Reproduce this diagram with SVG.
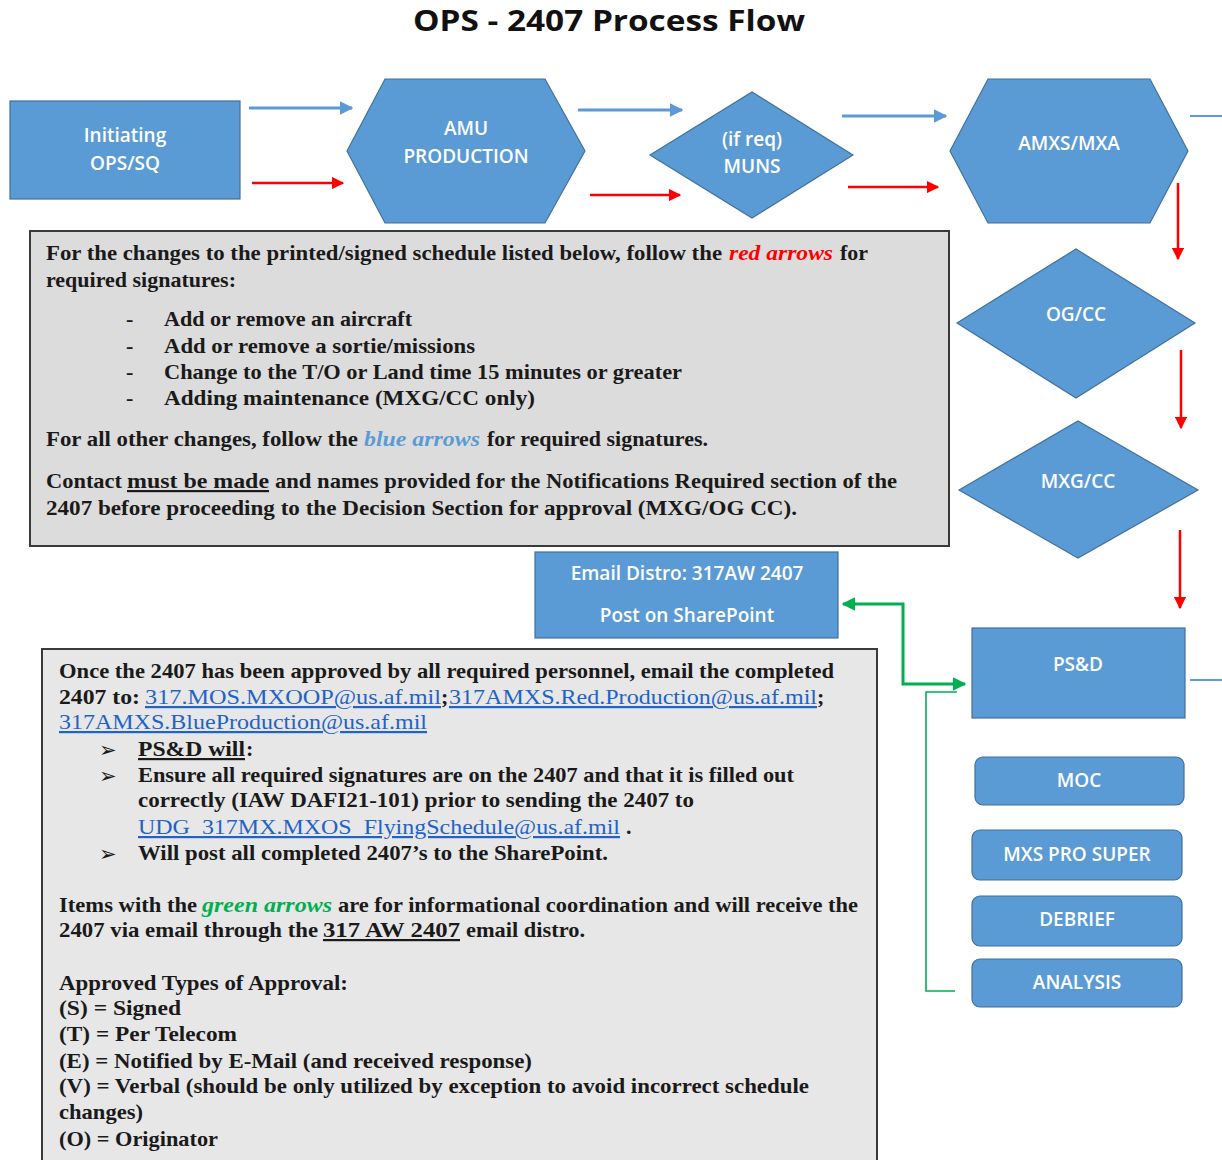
<svg xmlns="http://www.w3.org/2000/svg" width="1222" height="1160" viewBox="0 0 1222 1160">
<defs>
<style>
.shape{fill:#5b9bd5;stroke:#41719c;stroke-width:1.2}
.lbl{font-family:"Open Sans","Liberation Sans",sans-serif;font-size:19px;font-weight:600;fill:#ffffff;text-anchor:middle}
.tb{font-family:"Liberation Serif","Times New Roman",serif;font-size:22px;font-weight:bold;fill:#1a1a1a}
.lnk{fill:#1f63c6;text-decoration:underline;font-weight:normal}
.ul{text-decoration:underline}
.blue{stroke:#5b9bd5;stroke-width:3;fill:none}
.red{stroke:#ff0000;stroke-width:2.5;fill:none}
.green{stroke:#00b050;stroke-width:3;fill:none}
.chev{font-family:"DejaVu Sans",sans-serif;font-size:21px;font-weight:bold;fill:#1a1a1a}
</style>
<marker id="ab" viewBox="0 0 10 10" refX="9" refY="5" markerWidth="4.5" markerHeight="4.5" orient="auto" markerUnits="strokeWidth"><path d="M0,0 L10,5 L0,10 z" fill="#5b9bd5"/></marker>
<marker id="ar" viewBox="0 0 10 10" refX="9" refY="5" markerWidth="5" markerHeight="5" orient="auto" markerUnits="strokeWidth"><path d="M0,0 L10,5 L0,10 z" fill="#ff0000"/></marker>
<marker id="ag" viewBox="0 0 10 10" refX="9" refY="5" markerWidth="4.5" markerHeight="4.5" orient="auto-start-reverse" markerUnits="strokeWidth"><path d="M0,0 L10,5 L0,10 z" fill="#00b050"/></marker>
</defs>
<rect width="1222" height="1160" fill="#ffffff"/>

<text x="609" y="31" text-anchor="middle" font-family="'Open Sans','Liberation Sans',sans-serif" font-size="28" font-weight="bold" fill="#111" textLength="392" lengthAdjust="spacingAndGlyphs">OPS - 2407 Process Flow</text>

<g id="connectors">
<line class="blue" x1="249" y1="108" x2="352" y2="108" marker-end="url(#ab)"/>
<line class="red" x1="252" y1="183" x2="343" y2="183" marker-end="url(#ar)"/>
<line class="blue" x1="578" y1="110" x2="682" y2="110" marker-end="url(#ab)"/>
<line class="red" x1="590" y1="195" x2="680" y2="195" marker-end="url(#ar)"/>
<line class="blue" x1="842" y1="116" x2="946" y2="116" marker-end="url(#ab)"/>
<line class="red" x1="848" y1="187" x2="938" y2="187" marker-end="url(#ar)"/>
<line x1="1190" y1="116" x2="1222" y2="116" stroke="#5b9bd5" stroke-width="2"/>
<line class="red" x1="1178" y1="183" x2="1178" y2="259" marker-end="url(#ar)"/>
<line class="red" x1="1181" y1="350" x2="1181" y2="428" marker-end="url(#ar)"/>
<line class="red" x1="1180" y1="530" x2="1180" y2="608" marker-end="url(#ar)"/>
<line x1="1190" y1="680" x2="1222" y2="680" stroke="#5b9bd5" stroke-width="2"/>
<path class="green" d="M965 684 H903 V604 H843" marker-start="url(#ag)" marker-end="url(#ag)"/>
<path d="M957 692 H926 V991 H955" fill="none" stroke="#00b050" stroke-width="1.6"/>
</g>

<g id="initiating">
<rect class="shape" x="10" y="101" width="230" height="98"/>
<text class="lbl" x="125" y="142">Initiating</text>
<text class="lbl" x="125" y="170">OPS/SQ</text>
</g>
<g id="amu-production">
<polygon class="shape" points="347,151 385,79 545,79 585,151 545,223 385,223"/>
<text class="lbl" x="466" y="135">AMU</text>
<text class="lbl" x="466" y="163">PRODUCTION</text>
</g>
<g id="muns">
<polygon class="shape" points="650,155 752,92 853,155 752,218"/>
<text class="lbl" x="752" y="146">(if req)</text>
<text class="lbl" x="752" y="173">MUNS</text>
</g>
<g id="amxs-mxa">
<polygon class="shape" points="950,151 988,79 1150,79 1188,151 1150,223 988,223"/>
<text class="lbl" x="1069" y="150">AMXS/MXA</text>
</g>
<g id="og-cc">
<polygon class="shape" points="957,323 1076,249 1195,323 1076,398"/>
<text class="lbl" x="1076" y="321">OG/CC</text>
</g>
<g id="mxg-cc">
<polygon class="shape" points="959,490 1078,421 1198,490 1078,558"/>
<text class="lbl" x="1078" y="488">MXG/CC</text>
</g>
<g id="psd">
<rect class="shape" x="972" y="628" width="213" height="90"/>
<text class="lbl" x="1078" y="671">PS&amp;D</text>
</g>
<g id="moc">
<rect class="shape" x="975" y="757" width="209" height="48" rx="8"/>
<text class="lbl" x="1079" y="787">MOC</text>
</g>
<g id="mxs-pro-super">
<rect class="shape" x="972" y="830" width="210" height="50" rx="8"/>
<text class="lbl" x="1077" y="861">MXS PRO SUPER</text>
</g>
<g id="debrief">
<rect class="shape" x="972" y="896" width="210" height="50" rx="8"/>
<text class="lbl" x="1077" y="926">DEBRIEF</text>
</g>
<g id="analysis">
<rect class="shape" x="972" y="959" width="210" height="48" rx="8"/>
<text class="lbl" x="1077" y="989">ANALYSIS</text>
</g>
<g id="email-distro">
<rect class="shape" x="535" y="552" width="303" height="86"/>
<text class="lbl" x="687" y="580">Email Distro: 317AW 2407</text>
<text class="lbl" x="687" y="622">Post on SharePoint</text>
</g>

<g id="note-signatures">
<rect x="30" y="231" width="919" height="315" fill="#dcdcdc" stroke="#3a3a3a" stroke-width="2"/>
<text class="tb" x="46" y="260" textLength="676" lengthAdjust="spacingAndGlyphs">For the changes to the printed/signed schedule listed below, follow the</text>
<text class="tb" x="729" y="260" font-style="italic" textLength="104" lengthAdjust="spacingAndGlyphs" style="fill:#ff0000">red arrows</text>
<text class="tb" x="840" y="260" textLength="28" lengthAdjust="spacingAndGlyphs">for</text>
<text class="tb" x="46" y="287" textLength="190" lengthAdjust="spacingAndGlyphs">required signatures:</text>
<text class="tb" x="126" y="326">-</text>
<text class="tb" x="164" y="326" textLength="248" lengthAdjust="spacingAndGlyphs">Add or remove an aircraft</text>
<text class="tb" x="126" y="353">-</text>
<text class="tb" x="164" y="353" textLength="311" lengthAdjust="spacingAndGlyphs">Add or remove a sortie/missions</text>
<text class="tb" x="126" y="379">-</text>
<text class="tb" x="164" y="379" textLength="518" lengthAdjust="spacingAndGlyphs">Change to the T/O or Land time 15 minutes or greater</text>
<text class="tb" x="126" y="405">-</text>
<text class="tb" x="164" y="405" textLength="371" lengthAdjust="spacingAndGlyphs">Adding maintenance (MXG/CC only)</text>
<text class="tb" x="46" y="446" textLength="312" lengthAdjust="spacingAndGlyphs">For all other changes, follow the</text>
<text class="tb" x="364" y="446" font-style="italic" font-weight="normal" textLength="116" lengthAdjust="spacingAndGlyphs" style="fill:#5b9bd5">blue arrows</text>
<text class="tb" x="487" y="446" textLength="221" lengthAdjust="spacingAndGlyphs">for required signatures.</text>
<text class="tb" x="46" y="488" textLength="76" lengthAdjust="spacingAndGlyphs">Contact</text>
<text class="tb ul" x="127" y="488" textLength="142" lengthAdjust="spacingAndGlyphs">must be made</text>
<text class="tb" x="275" y="488" textLength="622" lengthAdjust="spacingAndGlyphs">and names provided for the Notifications Required section of the</text>
<text class="tb" x="46" y="515" textLength="751" lengthAdjust="spacingAndGlyphs">2407 before proceeding to the Decision Section for approval (MXG/OG CC).</text>
</g>

<g id="note-distribution">
<rect x="42" y="649" width="835" height="520" fill="#e7e7e7" stroke="#3a3a3a" stroke-width="2"/>
<text class="tb" x="59" y="678" textLength="775" lengthAdjust="spacingAndGlyphs">Once the 2407 has been approved by all required personnel, email the completed</text>
<text class="tb" x="59" y="704" textLength="81" lengthAdjust="spacingAndGlyphs">2407 to:</text>
<text class="tb lnk" x="145" y="704" textLength="296" lengthAdjust="spacingAndGlyphs">317.MOS.MXOOP@us.af.mil</text>
<text class="tb" x="441" y="704">;</text>
<text class="tb lnk" x="449" y="704" textLength="368" lengthAdjust="spacingAndGlyphs">317AMXS.Red.Production@us.af.mil</text>
<text class="tb" x="817" y="704">;</text>
<text class="tb lnk" x="59" y="729" textLength="368" lengthAdjust="spacingAndGlyphs">317AMXS.BlueProduction@us.af.mil</text>
<text class="chev" x="99" y="757">➢</text>
<text class="tb ul" x="138" y="756" textLength="107" lengthAdjust="spacingAndGlyphs">PS&amp;D will</text>
<text class="tb" x="246" y="756">:</text>
<text class="chev" x="99" y="783">➢</text>
<text class="tb" x="138" y="782" textLength="656" lengthAdjust="spacingAndGlyphs">Ensure all required signatures are on the 2407 and that it is filled out</text>
<text class="tb" x="138" y="807" textLength="556" lengthAdjust="spacingAndGlyphs">correctly (IAW DAFI21-101) prior to sending the 2407 to</text>
<text class="tb lnk" x="138" y="834" textLength="482" lengthAdjust="spacingAndGlyphs">UDG_317MX.MXOS_FlyingSchedule@us.af.mil</text>
<text class="tb" x="626" y="834">.</text>
<text class="chev" x="99" y="861">➢</text>
<text class="tb" x="138" y="860" textLength="470" lengthAdjust="spacingAndGlyphs">Will post all completed 2407’s to the SharePoint.</text>
<text class="tb" x="59" y="912" textLength="138" lengthAdjust="spacingAndGlyphs">Items with the</text>
<text class="tb" x="202" y="912" font-style="italic" textLength="130" lengthAdjust="spacingAndGlyphs" style="fill:#00b050">green arrows</text>
<text class="tb" x="338" y="912" textLength="520" lengthAdjust="spacingAndGlyphs">are for informational coordination and will receive the</text>
<text class="tb" x="59" y="937" textLength="259" lengthAdjust="spacingAndGlyphs">2407 via email through the</text>
<text class="tb ul" x="323" y="937" textLength="137" lengthAdjust="spacingAndGlyphs">317 AW 2407</text>
<text class="tb" x="466" y="937" textLength="119" lengthAdjust="spacingAndGlyphs">email distro.</text>
<text class="tb" x="59" y="990" textLength="289" lengthAdjust="spacingAndGlyphs">Approved Types of Approval:</text>
<text class="tb" x="59" y="1015" textLength="122" lengthAdjust="spacingAndGlyphs">(S) = Signed</text>
<text class="tb" x="59" y="1041" textLength="178" lengthAdjust="spacingAndGlyphs">(T) = Per Telecom</text>
<text class="tb" x="59" y="1068" textLength="473" lengthAdjust="spacingAndGlyphs">(E) = Notified by E-Mail (and received response)</text>
<text class="tb" x="59" y="1093" textLength="750" lengthAdjust="spacingAndGlyphs">(V) = Verbal (should be only utilized by exception to avoid incorrect schedule</text>
<text class="tb" x="59" y="1119" textLength="84" lengthAdjust="spacingAndGlyphs">changes)</text>
<text class="tb" x="59" y="1146" textLength="159" lengthAdjust="spacingAndGlyphs">(O) = Originator</text>
</g>
</svg>
